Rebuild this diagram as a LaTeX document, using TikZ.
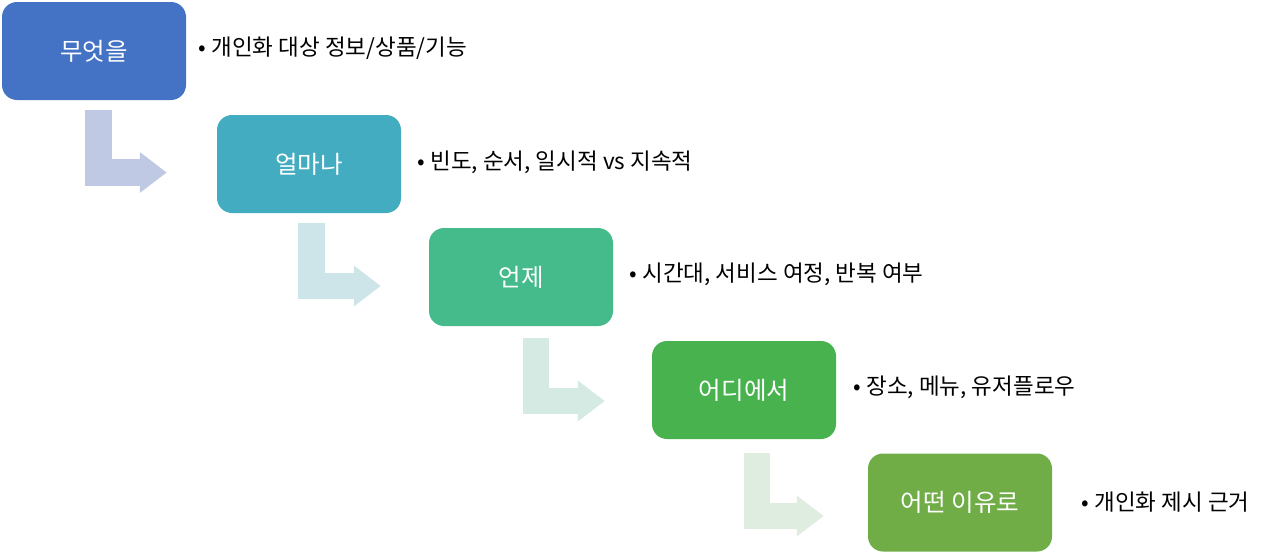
\documentclass[tikz,border=0pt]{standalone}
\usepackage{fontspec}
\setmainfont{Noto Sans CJK KR}
\usepackage{xcolor}
\usetikzlibrary{arrows.meta, positioning, calc}

\definecolor{box1}{RGB}{68,114,196}
\definecolor{box2}{RGB}{67,172,192}
\definecolor{box3}{RGB}{69,187,139}
\definecolor{box4}{RGB}{72,179,78}
\definecolor{box5}{RGB}{112,173,71}
\definecolor{arr1}{RGB}{191,201,228}
\definecolor{arr2}{RGB}{205,229,233}
\definecolor{arr3}{RGB}{212,234,226}
\definecolor{arr4}{RGB}{222,237,224}

\begin{document}
\begin{tikzpicture}[x=1pt,y=-1pt,
			step box/.style={rounded corners=15pt,minimum width=184pt,minimum height=98pt,
				text=white,font=\fontsize{24.5}{28}\selectfont,inner sep=0pt},
			bullet text/.style={anchor=west,inner sep=0pt,font=\fontsize{22.5}{26}\selectfont},
			flow/.style={line width=26.5pt,line join=miter,
				-{Triangle[length=27pt,width=39pt]}}]
			
			\useasboundingbox (0,0) rectangle (1280,554);
			
			\node[step box,fill=box1] (what) at (94,51) {무엇을};
			\node[step box,fill=box2] (howmuch) at (309,164) {얼마나};
			\node[step box,fill=box3] (when) at (521,277) {언제};
			\node[step box,fill=box4] (where) at (744,390) {어디에서};
			\node[step box,fill=box5] (why) at (960,502.5) {어떤 이유로};
			
			\node[bullet text] (whatnote) at ($(what.east)+(12,-3)$) {•\hspace{5.5pt}개인화 대상 정보/상품/기능};
			\node[bullet text] (howmuchnote) at ($(howmuch.east)+(16,-2)$) {•\hspace{5.5pt}빈도, 순서, 일시적 vs 지속적};
			\node[bullet text] (whennote) at ($(when.east)+(16,-3)$) {•\hspace{5.5pt}시간대, 서비스 여정, 반복 여부};
			\node[bullet text] (wherenote) at ($(where.east)+(17,-3)$) {•\hspace{5.5pt}장소, 메뉴, 유저플로우};
			\node[bullet text] (whynote) at ($(why.east)+(29,0)$) {•\hspace{5.5pt}개인화 제시 근거};
			
			% bent arrows between steps
			\draw[flow,arr1] ($(what.south)+(4.5,10)$) |- ($(howmuch.west)+(-50,8.5)$);
			\draw[flow,arr2] ($(howmuch.south)+(2.5,10)$) |- ($(when.west)+(-48,9)$);
			\draw[flow,arr3] ($(when.south)+(15,12)$) |- ($(where.west)+(-47,11)$);
			\draw[flow,arr4] ($(where.south)+(13,14)$) |- ($(why.west)+(-44,13.5)$);
		\end{tikzpicture}
\end{document}
